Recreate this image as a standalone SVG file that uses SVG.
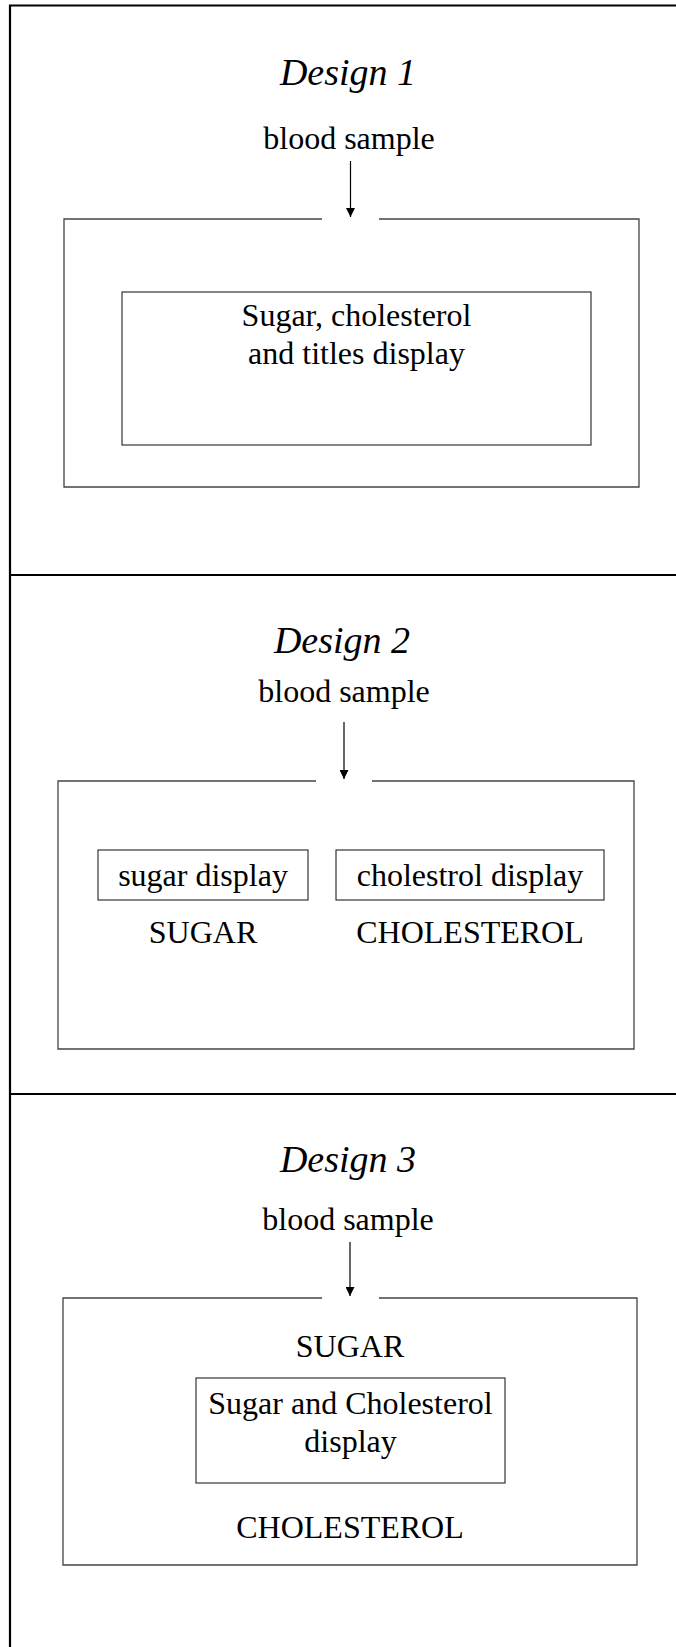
<svg xmlns="http://www.w3.org/2000/svg" width="676" height="1647" viewBox="0 0 676 1647">
  <style>
    .frame { fill: none; stroke: #000; stroke-width: 2.2; }
    .outer { fill: none; stroke: #444; stroke-width: 1.3; }
    .inner { fill: none; stroke: #222; stroke-width: 1.1; }
    .flow { stroke: #000; stroke-width: 1.2; fill: none; }
    .title { font-family: "Liberation Serif", "Times New Roman", serif; font-style: italic; font-size: 38px; fill: #000; text-anchor: middle; }
    .label { font-family: "Liberation Serif", "Times New Roman", serif; font-size: 32px; fill: #000; text-anchor: middle; }
  </style>
  <defs>
    <marker id="arrowhead" viewBox="0 0 10 10" refX="10" refY="5" markerWidth="9" markerHeight="9" markerUnits="userSpaceOnUse" orient="auto">
      <path d="M0,0 L10,5 L0,10 Z" fill="#000"/>
    </marker>
  </defs>

  <rect width="676" height="1647" fill="#fff"/>

  <!-- page frame with section separators -->
  <g id="frame">
    <path class="frame" d="M10,1647 V5.5 H676"/>
    <line class="frame" x1="10" y1="575" x2="676" y2="575"/>
    <line class="frame" x1="10" y1="1094" x2="676" y2="1094"/>
  </g>

  <!-- Design 1 -->
  <g id="design1">
    <text class="title" x="348" y="85">Design 1</text>
    <text class="label" x="349" y="149">blood sample</text>
    <path id="d1-device" class="outer" d="M322,219 H64 V487 H639 V219 H379"/>
    <g id="d1-display">
      <rect class="inner" x="122" y="292" width="469" height="153"/>
      <text class="label" x="356.5" y="326">Sugar, cholesterol</text>
      <text class="label" x="356.5" y="364">and titles display</text>
    </g>
  </g>

  <!-- Design 2 -->
  <g id="design2">
    <text class="title" x="342" y="653">Design 2</text>
    <text class="label" x="344" y="702">blood sample</text>
    <path id="d2-device" class="outer" d="M316,781 H58 V1049 H634 V781 H372"/>
    <g id="d2-sugar">
      <rect class="inner" x="98" y="850" width="210" height="50"/>
      <text class="label" x="203" y="886">sugar display</text>
      <text class="label" x="203" y="943">SUGAR</text>
    </g>
    <g id="d2-cholesterol">
      <rect class="inner" x="336" y="850" width="268" height="50"/>
      <text class="label" x="470" y="886">cholestrol display</text>
      <text class="label" x="470" y="943">CHOLESTEROL</text>
    </g>
  </g>

  <!-- Design 3 -->
  <g id="design3">
    <text class="title" x="348" y="1172">Design 3</text>
    <text class="label" x="348" y="1230">blood sample</text>
    <path id="d3-device" class="outer" d="M322,1298 H63 V1565 H637 V1298 H379"/>
    <text class="label" x="350" y="1357">SUGAR</text>
    <g id="d3-display">
      <rect class="inner" x="196" y="1378" width="309" height="105"/>
      <text class="label" x="350.5" y="1414">Sugar and Cholesterol</text>
      <text class="label" x="350.5" y="1452">display</text>
    </g>
    <text class="label" x="350" y="1538">CHOLESTEROL</text>
  </g>

  <!-- sample flow arrows -->
  <g id="connectors">
    <line class="flow" x1="350.5" y1="161" x2="350.5" y2="217" marker-end="url(#arrowhead)"/>
    <line class="flow" x1="344" y1="722" x2="344" y2="779" marker-end="url(#arrowhead)"/>
    <line class="flow" x1="350" y1="1242" x2="350" y2="1296" marker-end="url(#arrowhead)"/>
  </g>
</svg>
